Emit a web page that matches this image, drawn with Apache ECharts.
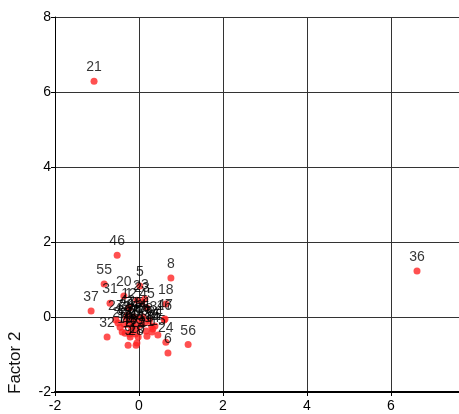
<!DOCTYPE html>
<html><head><meta charset="utf-8">
<script src="https://cdn.jsdelivr.net/npm/echarts@6/dist/echarts.min.js"></script>
<style>html,body{margin:0;padding:0;background:#fff}#c{width:459px;height:414px}</style>
</head><body><div id="c"></div>
<script>
// point labels and their (Factor 1, Factor 2) scores
const labels = [];
for (let i = 1; i <= 56; i++) labels.push(String(i));
const xValues = [
  -0.24, -0.05, 0.14, -0.50, 0.02, 0.69, -0.40, 0.76, -0.26, -0.05,
  0.19, -0.24, 0.17, 0.31, 0.45, 0.60, -0.21, 0.64, -0.33, -0.36,
  -1.07, -0.02, 0.07, 0.64, 0.33, -0.45, -0.55, -0.07, -0.30, -0.25,
  -0.69, -0.76, -0.20, 0.38, -0.15, 6.62, -1.14, -0.10, -0.35, -0.18,
  -0.05, -0.28, -0.12, 0.00, 0.19, -0.52, 0.62, -0.22, -0.08, 0.05,
  0.10, 0.15, 0.25, 0.30, -0.83, 1.17
];
const yValues = [
  0.24, 0.45, 0.48, -0.16, 0.83, -0.96, -0.40, 1.04, -0.75, -0.69,
  -0.51, 0.24, -0.37, -0.40, -0.48, -0.08, -0.53, 0.35, -0.43, 0.56,
  6.29, -0.53, 0.40, -0.67, -0.32, -0.27, -0.08, -0.75, -0.05, -0.20,
  0.37, -0.53, -0.10, -0.24, -0.25, 1.23, 0.16, -0.15, -0.20, -0.35,
  -0.30, 0.05, 0.00, -0.05, 0.24, 1.65, -0.05, -0.45, -0.45, -0.20,
  0.00, -0.15, -0.10, -0.25, 0.88, -0.73
];
const xTicks = [-2, 0, 2, 4, 6];
const yTicks = [-2, 0, 2, 4, 6, 8];

const data = labels.map((l, i) => ({ value: [xValues[i], yValues[i]], name: l }));
const font = 'Liberation Sans, Arial, sans-serif';

const chart = echarts.init(document.getElementById('c'), null, { renderer: 'canvas' });
chart.setOption({
  animation: false,
  grid: { left: 55, top: 17, right: 0, bottom: 22, containLabel: false },
  xAxis: {
    type: 'value', min: xTicks[0], max: 7.62, interval: 2,
    axisLine: { show: true, onZero: false, lineStyle: { color: '#000', width: 2 } },
    axisTick: { show: true, length: 4, lineStyle: { color: '#000' } },
    axisLabel: { color: '#000', fontSize: 14, fontFamily: font, margin: 7,
      showMaxLabel: false,
      formatter: v => (xTicks.indexOf(v) >= 0 ? String(v) : '') },
    splitLine: { show: true, lineStyle: { color: '#333', width: 1 } }
  },
  yAxis: {
    type: 'value', min: yTicks[0], max: yTicks[yTicks.length - 1], interval: 2,
    axisLine: { show: true, onZero: false, lineStyle: { color: '#000', width: 1 } },
    axisTick: { show: true, length: 4, lineStyle: { color: '#000' } },
    axisLabel: { color: '#000', fontSize: 14, fontFamily: font, margin: 4 },
    splitLine: { show: true, lineStyle: { color: '#333', width: 1 } }
  },
  graphic: [{
    type: 'text', x: 7, y: 394, rotation: Math.PI / 2,
    style: { text: 'Factor 2', font: '17px ' + font, fill: '#111', textAlign: 'left', textVerticalAlign: 'top' }
  }],
  series: [{
    type: 'scatter',
    data: data,
    symbolSize: 7,
    itemStyle: { color: '#ff2424' },
    label: { show: true, position: 'top', distance: 3, formatter: p => p.name,
      color: '#000', fontSize: 14, fontFamily: font },
    labelLayout: { hideOverlap: false }
  }]
});
</script></body></html>
